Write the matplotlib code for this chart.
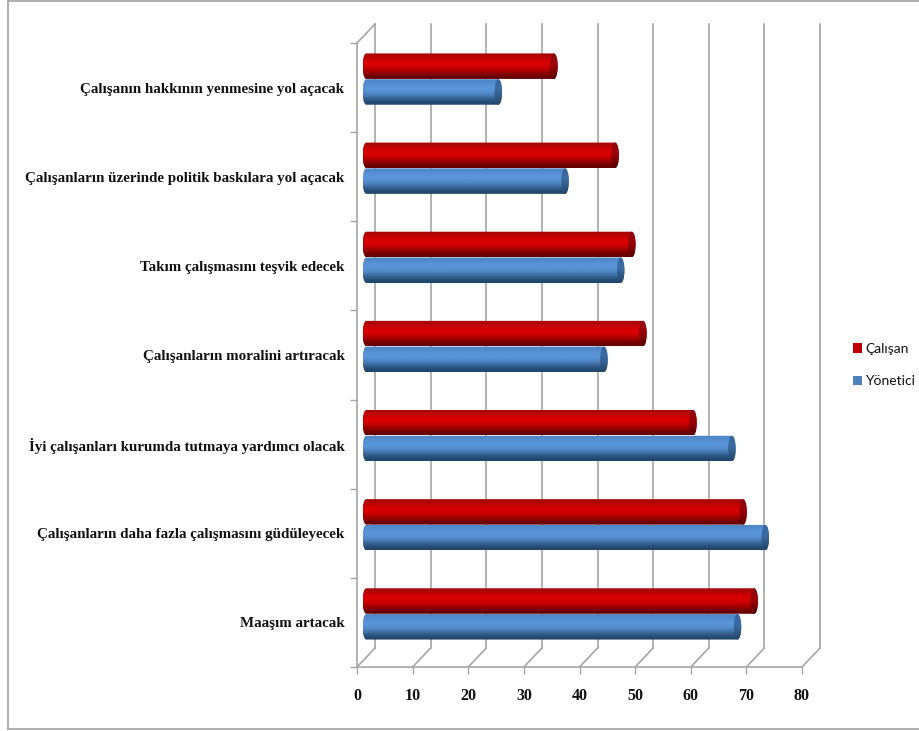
import matplotlib
matplotlib.use("Agg")
import matplotlib.pyplot as plt
import numpy as np
from matplotlib.path import Path
from matplotlib.patches import PathPatch, Ellipse, Rectangle
from matplotlib.lines import Line2D

categories = [
    "Maaşım artacak",
    "Çalışanların daha fazla çalışmasını güdüleyecek",
    "İyi çalışanları kurumda tutmaya yardımcı olacak",
    "Çalışanların moralini artıracak",
    "Takım çalışmasını teşvik edecek",
    "Çalışanların üzerinde politik baskılara yol açacak",
    "Çalışanın hakkının yenmesine yol açacak",
]
calisan = [71, 69, 60, 51, 49, 46, 35]
yonetici = [68, 73, 67, 44, 47, 37, 25]
x_ticks = [0, 10, 20, 30, 40, 50, 60, 70, 80]

W, H = 919, 731
fig = plt.figure(figsize=(W / 100, H / 100), dpi=100)
fig.patch.set_facecolor("white")
ax = fig.add_axes([357 / W, 1 - 667 / H, 445 / W, 624 / H])
ax.set_xlim(0, 80)
ax.set_ylim(-0.5, 6.5)

px_x = 80 / 445
px_y = 7 / 624
grey = "#a6a6a6"

# walls of the fake 3d box
dx, dy = 18 * px_x, 19 * px_y
for v in x_ticks:
    ax.plot([v, v + dx], [-0.5, -0.5 + dy], color=grey, lw=1.2, clip_on=False)
    ax.plot([v + dx, v + dx], [-0.5 + dy, 6.5 + dy], color=grey, lw=1.2, clip_on=False)
ax.plot([0, dx], [6.5, 6.5 + dy], color=grey, lw=1.2, clip_on=False)


def cylinder(value, yc, colors, cap_colors):
    # bar with a rounded left end and a darker cap on the right
    x0 = 5.5 * px_x
    x1 = value + 6 * px_x
    h = 25.5 * px_y
    rx = 3.8 * px_x
    t = np.linspace(np.pi / 2, 3 * np.pi / 2, 30)
    xs = np.r_[x0 + rx + rx * np.cos(t), x1 - rx - rx * np.cos(t)]
    ys = np.r_[yc + h / 2 * np.sin(t), yc - h / 2 * np.sin(t)]
    grad = matplotlib.colors.to_rgba_array(colors)[:, None, :]
    im = ax.imshow(grad, extent=[x0, x1, yc - h / 2, yc + h / 2], aspect="auto",
                   interpolation="bicubic", zorder=3)
    body = PathPatch(Path(np.c_[xs, ys]), transform=ax.transData, fc="none", ec="none")
    ax.add_patch(body)
    im.set_clip_path(body)
    cap = Ellipse((x1 - rx, yc), 2 * rx, h, transform=ax.transData, fc="none", ec="none")
    ax.add_patch(cap)
    im2 = ax.imshow(matplotlib.colors.to_rgba_array(cap_colors)[:, None, :],
                    extent=[x1 - 2 * rx, x1, yc - h / 2, yc + h / 2], aspect="auto",
                    interpolation="bicubic", zorder=4)
    im2.set_clip_path(cap)


red = ["#a50808", "#cc0202", "#e00000", "#c80000", "#940000", "#640000"]
red_cap = ["#8a0a10", "#a00008", "#8c0006", "#5c0000"]
blue = ["#4f86c6", "#5a94d8", "#5c96dc", "#4f86c2", "#356293", "#1f4468"]
blue_cap = ["#35659b", "#3f6fa6", "#35608f", "#264a70"]

for i in range(len(categories)):
    pair = i + 8.5 * px_y
    cylinder(calisan[i], pair + 12.9 * px_y, red, red_cap)
    cylinder(yonetici[i], pair - 12.9 * px_y, blue, blue_cap)

ax.set_xlim(0, 80)
ax.set_ylim(-0.5, 6.5)
ax.patch.set_alpha(0)

for side in ["top", "right"]:
    ax.spines[side].set_visible(False)
for side in ["left", "bottom"]:
    ax.spines[side].set_color(grey)
    ax.spines[side].set_linewidth(1.2)

ax.set_xticks(x_ticks)
ax.set_yticks(np.arange(-0.5, 7, 1), minor=False)
ax.set_yticklabels([])
ax.set_yticks(range(len(categories)), labels=categories, minor=True)
ax.tick_params(axis="y", which="major", length=5, color=grey, width=1)
ax.tick_params(axis="y", which="minor", length=0, pad=9)
ax.tick_params(axis="x", length=5, color=grey, width=1, pad=10)
for lab in ax.get_yticklabels(minor=True):
    lab.set_family("Liberation Serif")
    lab.set_fontweight("bold")
    lab.set_fontsize(10.85)
    lab.set_color("#111111")
    lab.set_verticalalignment("center_baseline")
for lab in ax.get_xticklabels():
    lab.set_family("Liberation Serif")
    lab.set_fontweight("bold")
    lab.set_fontsize(11.5)
    lab.set_color("#111111")

# legend
for name, color, ypx in [("Çalışan", "#c00000", 348), ("Yönetici", "#4f81bd", 380)]:
    fig.patches.append(Rectangle((853 / W, 1 - (ypx + 4.5) / H), 9 / W, 9 / H,
                                 transform=fig.transFigure, fc=color, ec="none"))
    fig.text(865 / W, 1 - (ypx + 1) / H, name, family="Lato", fontsize=10, va="center",
             color="#111111")

# outer frame, only left, top and bottom show
for xs, ys in [([8, 8], [0, 729]), ([8, 919], [729, 729]), ([8, 919], [0.5, 0.5])]:
    fig.add_artist(Line2D([x / W for x in xs], [1 - y / H for y in ys],
                          color="#a8a8a8", lw=1.3))

fig.savefig("out.png", dpi=100)
